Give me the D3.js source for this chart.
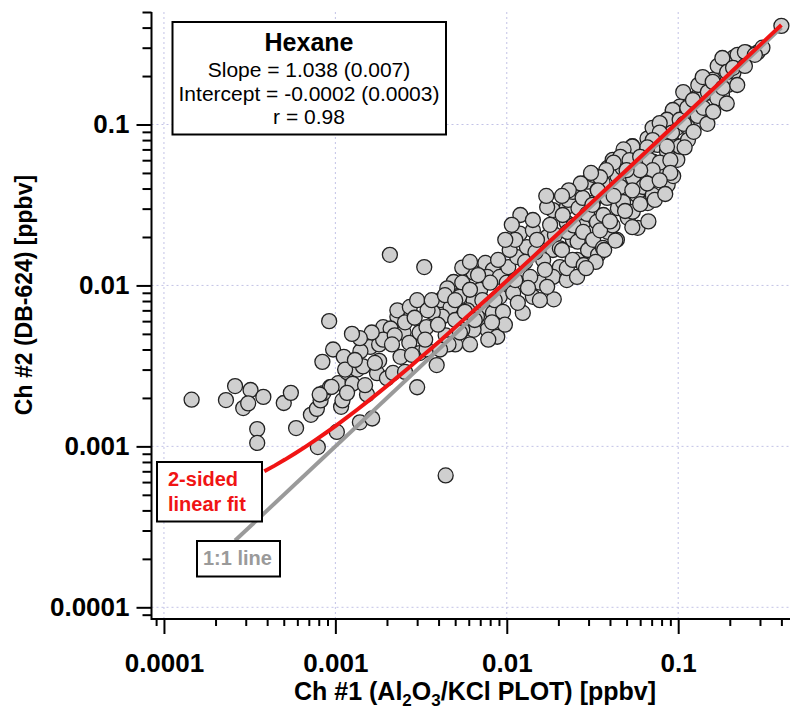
<!DOCTYPE html>
<html>
<head>
<meta charset="utf-8">
<title>Hexane: Ch #2 vs Ch #1</title>
<style>
  body { margin: 0; background: #fff; }
  text { font-family: Arial, "Liberation Sans", sans-serif; }
</style>
<script src="https://d3js.org/d3.v7.min.js"></script>
</head>
<body>
<svg width="790" height="709"></svg>
<script>
// decade ticks shown on both axes
var majorTicks = [1e-4, 1e-3, 1e-2, 1e-1];
var majorLabels = ["0.0001", "0.001", "0.01", "0.1"];

// fit / legend numbers
var fitSlope = 1.038, fitIntercept = 0.0003;
var fitRange = [3.85e-4, 0.40];
var oneToOneRange = [2.6e-4, 0.40];
var legendLines = ["Slope = 1.038 (0.007)", "Intercept = -0.0002 (0.0003)", "r = 0.98"];

// [Ch #1, Ch #2] in ppbv
var lowPairs = [
  [1.45e-4,1.95e-3],[2.3e-4,1.94e-3],[2.6e-4,2.37e-3],[3.2e-4,2.24e-3],[3.8e-4,2.03e-3],[2.9e-4,1.73e-3],
  [3.1e-4,1.85e-3],[3.5e-4,1.28e-3],[3.5e-4,1.05e-3],[5.0e-4,1.86e-3],[5.5e-4,2.15e-3],[5.9e-4,1.30e-3],
  [7.2e-4,1.57e-3],[7.8e-4,1.71e-3],[7.9e-4,9.9e-4],[8.2e-4,1.93e-3],[8.5e-4,2.14e-3],[9.3e-4,2.33e-3],
  [1.02e-3,1.23e-3],[1.08e-3,1.76e-3],[1.1e-3,1.93e-3],[1.04e-3,2.47e-3],[1.17e-3,2.89e-3],[1.34e-3,3.0e-3],
  [1.39e-3,1.41e-3],[1.26e-3,2.45e-3],[1.64e-3,1.49e-3],[1.45e-3,3.14e-3],[1.75e-3,2.85e-3],[2.0e-3,2.65e-3],
  [3.0e-3,2.33e-3],[3.9e-3,3.2e-3],[4.4e-3,6.6e-4],[9.2e-4,6.0e-3],[2.08e-3,1.55e-2],[3.3e-3,1.3e-2]
];
var midPairs = [
  [9.7e-4,4.0e-3],[8.4e-4,3.35e-3],[1.12e-3,3.6e-3],[1.14e-3,3.0e-3],[9.5e-4,2.34e-3],[8.1e-4,2.1e-3],
  [1.6e-3,4.15e-3],[1.8e-3,4.3e-3],[1.9e-3,5.5e-3],[2.3e-3,6.4e-3],[2.1e-3,5.4e-3],[2.5e-3,5.1e-3],
  [1.8e-3,3.4e-3],[2.4e-3,3.6e-3],[2.7e-3,4.4e-3],[3.1e-3,5.1e-3],[3.4e-3,5.5e-3],[3.1e-3,3.8e-3],
  [4.1e-3,8.1e-3],[4.7e-3,7.3e-3],[4.2e-3,6.4e-3],[3.7e-3,6.8e-3],[4.9e-3,1.05e-2],[5.5e-3,1.04e-2],
  [5.3e-3,8.5e-3],[6.4e-3,8.1e-3],[5.9e-3,7.0e-3],[7.0e-3,9.4e-3],[7.5e-3,1.38e-2],[8.3e-3,1.25e-2],
  [7.7e-3,1.13e-2],[6.4e-3,1.2e-2],[9.1e-3,1.13e-2],[1.02e-2,1.3e-2],[1.0e-2,1.04e-2],[9.1e-3,8.5e-3],
  [7.7e-3,7.0e-3],[7.0e-3,6.1e-3],[7.7e-3,5.3e-3],[8.8e-3,4.8e-3],[7.8e-3,4.6e-3],[6.4e-3,5.3e-3],
  [6.7e-3,6.4e-3],[8.3e-3,6.75e-3],[1.09e-2,9.0e-3],[1.24e-2,6.75e-3],[1.16e-2,7.8e-3],[1.42e-2,8.5e-3],
  [1.56e-2,1.04e-2],[1.37e-2,1.13e-2],[1.15e-2,1.5e-2],[1.31e-2,1.73e-2],[1.19e-2,2.1e-2],[1.2e-2,2.74e-2],
  [1.42e-2,2.2e-2],[1.72e-2,2.0e-2],[1.86e-2,1.66e-2],[1.63e-2,1.44e-2],[2.04e-2,1.3e-2],[1.86e-2,1.13e-2],
  [1.88e-2,8.2e-3],[1.72e-2,9.8e-3],[2.24e-2,1.08e-2],[2.57e-2,1.44e-2],[2.43e-2,1.92e-2],[2.24e-2,2.45e-2],
  [1.86e-2,2.94e-2],[2.78e-2,2.31e-2],[3.06e-2,1.84e-2],[3.18e-2,2.12e-2],[2.94e-2,2.82e-2],[3.18e-2,3.26e-2],
  [2.24e-2,3.07e-2],[1.72e-2,3.07e-2],[1.42e-2,2.55e-2],[1.17e-3,2.15e-3],[1.53e-3,2.1e-3],[2.17e-3,2.86e-3],
  [1.9e-3,4.6e-3],[2.3e-3,7.0e-3],[3.4e-3,4.0e-3],[2.72e-3,7.35e-3],[3.0e-3,8.1e-3],[3.45e-3,7.0e-3],
  [4.5e-3,9.6e-3],[5.0e-3,6.1e-3],[5.5e-3,5.3e-3],[4.4e-3,4.9e-3],[5.0e-3,4.3e-3],[1.4e-3,3.9e-3],
  [2.22e-3,4.9e-3],[2.55e-3,5.9e-3],[2.9e-3,6.3e-3],[3.34e-3,4.6e-3],[2.8e-3,3.7e-3],[3.97e-3,5.7e-3],
  [4.57e-3,4.3e-3],[3.65e-3,8.1e-3],[2.14e-3,4.3e-3],[1.63e-3,5.1e-3],[1.39e-3,4.7e-3],[1.25e-3,5.0e-3],
  [2.55e-3,2.9e-3],[1.49e-3,2.4e-3],[1.7e-3,3.3e-3],[1.3e-3,3.44e-3],
  [4.36e-3,8.7e-3],[5.0e-3,8.1e-3],[5.7e-3,6.85e-3],[6.1e-3,9.4e-3],[6.5e-3,6.1e-3],[7.2e-3,8.1e-3],
  [8.0e-3,1.04e-2],[8.5e-3,8.1e-3],[9.5e-3,6.85e-3],[9.75e-3,5.7e-3],[8.2e-3,5.9e-3],[5.33e-3,5.1e-3],
  [4.08e-3,4.0e-3],[6.1e-3,4.3e-3],[6.8e-3,1.16e-2],[5.5e-3,1.29e-2],[8.9e-3,1.44e-2],[6.1e-3,1.4e-2],
  [1.04e-2,1.66e-2],[1.12e-2,1.92e-2],[1.28e-2,1.4e-2],[1.47e-2,1.61e-2],[1.67e-2,1.25e-2],[1.5e-2,1.92e-2],
  [1.91e-2,2.06e-2],[2.04e-2,1.7e-2],[1.79e-2,2.38e-2],[1.33e-2,9.65e-3],[1.56e-2,8.1e-3],[1.12e-2,1.08e-2],
  [9.8e-3,1.92e-2],[1.07e-2,2.38e-2]
];
var bandPairs = [
  [0.0228,0.034],[0.0212,0.0274],[0.0226,0.0215],[0.0210,0.0166],[0.0224,0.0128],
  [0.0243,0.0381],[0.0262,0.0302],[0.0245,0.0236],[0.0259,0.0187],[0.0242,0.0144],[0.0257,0.0113],
  [0.0297,0.0441],[0.0277,0.035],[0.0294,0.0278],[0.0279,0.0215],[0.0298,0.0166],[0.0281,0.0134],
  [0.0318,0.0487],[0.0339,0.0392],[0.0316,0.0317],[0.0336,0.0248],[0.0319,0.0192],[0.0341,0.0155],
  [0.0388,0.0537],[0.0362,0.0437],[0.0385,0.035],[0.0366,0.0274],[0.0389,0.0215],[0.0364,0.0171],
  [0.0415,0.0603],[0.0442,0.0478],[0.0418,0.0381],[0.0445,0.0302],[0.0414,0.0236],[0.0439,0.0192],
  [0.0506,0.0676],[0.0474,0.0537],[0.0503,0.0422],[0.0477,0.033],[0.0508,0.0263],
  [0.0541,0.0733],[0.0578,0.0587],[0.0545,0.0466],[0.0575,0.0365],[0.0543,0.0287],[0.058,0.0228],
  [0.0662,0.0818],[0.0621,0.0656],[0.0659,0.0522],[0.0624,0.0409],[0.0664,0.0325],
  [0.0709,0.0953],[0.0757,0.0747],[0.0713,0.0587],[0.0754,0.0466],[0.0711,0.0365],
  [0.0865,0.1068],[0.0812,0.0842],[0.0861,0.0676],[0.0815,0.0537],[0.0868,0.0422],
  [0.0929,0.12],[0.0985,0.0953],[0.0932,0.0762],[0.0988,0.0603],[0.0935,0.0478]
];
var highPairs = [
  [0.40,0.41],[0.29,0.28],[0.25,0.28],[0.21,0.26],[0.23,0.235],[0.21,0.21],[0.175,0.20],[0.16,0.19],
  [0.138,0.176],[0.147,0.157],[0.18,0.153],[0.129,0.148],[0.113,0.142],[0.102,0.129],[0.093,0.123],
  [0.113,0.123],[0.129,0.118],[0.086,0.107],[0.078,0.102],[0.102,0.107],[0.113,0.097],[0.092,0.089],
  [0.078,0.089],[0.071,0.080],[0.102,0.073],[0.086,0.073],[0.066,0.072],[0.054,0.073],[0.048,0.070],
  [0.046,0.063],[0.052,0.060],[0.060,0.063],[0.068,0.060],[0.078,0.058],[0.090,0.060],[0.090,0.050],
  [0.071,0.052],[0.060,0.052],[0.050,0.052],[0.042,0.058],[0.038,0.052],[0.035,0.047],[0.031,0.050],
  [0.027,0.043],[0.046,0.041],[0.054,0.039],[0.066,0.043],[0.042,0.036],[0.034,0.039],[0.023,0.039],
  [0.021,0.036],[0.017,0.036],[0.078,0.045],[0.037,0.0166],[0.043,0.019],[0.035,0.022],[0.040,0.025],
  [0.049,0.029],[0.054,0.023],[0.060,0.032],[0.067,0.025],[0.073,0.034],[0.084,0.037],
  [0.033,0.014],[0.029,0.0128],[0.31,0.30],[0.195,0.176],
  [0.107,0.159],[0.113,0.127],[0.108,0.101],[0.114,0.080],[0.109,0.072],
  [0.131,0.176],[0.122,0.142],[0.130,0.113],[0.123,0.090],
  [0.139,0.197],[0.149,0.159],[0.140,0.127],[0.148,0.101],
  [0.170,0.231],[0.159,0.184],[0.169,0.146],[0.160,0.12],
  [0.181,0.259],[0.193,0.212],[0.182,0.169],[0.192,0.135],
  [0.222,0.271],[0.209,0.225],[0.221,0.176],
  [0.245,0.282],[0.245,0.231],[0.28,0.271]
];

var svg = d3.select("svg"),
    margin = {top: 12, right: 0, bottom: 90, left: 151.5},
    W = +svg.attr("width"), H = +svg.attr("height"),
    x0 = margin.left, x1 = W - margin.right,
    y0 = H - margin.bottom, y1 = margin.top;

var x = d3.scaleLog().domain([8.46e-5, 0.449]).range([x0, x1]);
var y = d3.scaleLog().domain([8.46e-5, 0.50]).range([y0, y1]);

var minorX = x.ticks().filter(function(v){ return majorTicks.indexOf(v) < 0; });
var minorY = y.ticks().filter(function(v){ return majorTicks.indexOf(v) < 0; });

// dashed grid
var grid = svg.append("g").attr("stroke", "#c2c2e6").attr("stroke-width", 1).attr("stroke-dasharray", "2,3");
grid.selectAll(".gx").data(majorTicks).enter().append("line")
    .attr("x1", function(d){ return x(d); }).attr("x2", function(d){ return x(d); })
    .attr("y1", y1).attr("y2", y0);
grid.selectAll(".gy").data(majorTicks).enter().append("line")
    .attr("y1", function(d){ return y(d); }).attr("y2", function(d){ return y(d); })
    .attr("x1", x0).attr("x2", x1);

// points
var allPairs = lowPairs.concat(midPairs, bandPairs, highPairs);
svg.append("g").selectAll("circle").data(allPairs).enter().append("circle")
    .attr("cx", function(d){ return x(d[0]); })
    .attr("cy", function(d){ return y(d[1]); })
    .attr("r", 7.5)
    .attr("fill", "#cfcfcf")
    .attr("stroke", "#222")
    .attr("stroke-width", 1.3);

// 1:1 line and fit curve
svg.append("line")
    .attr("x1", x(oneToOneRange[0])).attr("y1", y(oneToOneRange[0]))
    .attr("x2", x(oneToOneRange[1])).attr("y2", y(oneToOneRange[1]))
    .attr("stroke", "#9a9a9a").attr("stroke-width", 4);

var samples = d3.range(0, 1.0001, 0.02).map(function(t){
  return fitRange[0] * Math.pow(fitRange[1] / fitRange[0], t);
});
svg.append("path")
    .datum(samples)
    .attr("fill", "none").attr("stroke", "#f01414").attr("stroke-width", 4)
    .attr("d", d3.line().x(function(d){ return x(d); }).y(function(d){ return y(fitSlope * d + fitIntercept); }));

// axes
function styleAxis(g) {
  g.select(".domain").remove();
  g.selectAll("line").attr("stroke", "#000").attr("stroke-width", 2);
  g.selectAll("text").attr("font-size", 26).attr("font-weight", "bold").attr("fill", "#000")
    .style("font-family", "Arial, 'Liberation Sans', sans-serif");
}
svg.append("g").attr("transform", "translate(0," + y0 + ")")
   .call(d3.axisBottom(x).tickValues(minorX).tickSize(7).tickFormat(""))
   .call(styleAxis);
svg.append("g").attr("transform", "translate(0," + y0 + ")")
   .call(d3.axisBottom(x).tickValues(majorTicks).tickSize(15).tickPadding(20)
         .tickFormat(function(d, i){ return majorLabels[i]; }))
   .call(styleAxis);
svg.append("g").attr("transform", "translate(" + x0 + ",0)")
   .call(d3.axisLeft(y).tickValues(minorY).tickSize(9).tickFormat(""))
   .call(styleAxis);
svg.append("g").attr("transform", "translate(" + x0 + ",0)")
   .call(d3.axisLeft(y).tickValues(majorTicks).tickSize(15).tickPadding(7)
         .tickFormat(function(d, i){ return majorLabels[i]; }))
   .call(styleAxis);

svg.append("path")
   .attr("d", "M" + x0 + "," + y1 + "V" + y0 + "H" + x1)
   .attr("fill", "none").attr("stroke", "#000").attr("stroke-width", 2);

// axis titles
var xt = svg.append("text").attr("x", 475).attr("y", 700).attr("text-anchor", "middle")
    .attr("font-size", 25).attr("font-weight", "bold");
xt.append("tspan").text("Ch #1 (Al");
xt.append("tspan").attr("font-size", 17).attr("dy", 6).text("2");
xt.append("tspan").attr("dy", -6).text("O");
xt.append("tspan").attr("font-size", 17).attr("dy", 6).text("3");
xt.append("tspan").attr("dy", -6).text("/KCl PLOT) [ppbv]");

svg.append("text")
    .attr("transform", "translate(32,295) rotate(-90)")
    .attr("text-anchor", "middle")
    .attr("font-size", 23).attr("font-weight", "bold")
    .text("Ch #2 (DB-624) [ppbv]");

// stats box
var box = svg.append("g");
box.append("rect").attr("x", 172.5).attr("y", 22).attr("width", 273.5).attr("height", 112.5)
   .attr("fill", "#fff").attr("stroke", "#000").attr("stroke-width", 2);
box.append("text").attr("x", 309).attr("y", 51).attr("text-anchor", "middle")
   .attr("font-size", 25).attr("font-weight", "bold").text("Hexane");
box.selectAll(".ln").data(legendLines).enter().append("text")
   .attr("x", 309).attr("y", function(d, i){ return 77 + i * 23.5; })
   .attr("text-anchor", "middle").attr("font-size", 21).text(function(d){ return d; });

// line labels
svg.append("rect").attr("x", 157).attr("y", 462).attr("width", 105).attr("height", 59.5)
   .attr("fill", "#fff").attr("stroke", "#000").attr("stroke-width", 2);
svg.append("text").attr("x", 168).attr("y", 486).attr("font-size", 20).attr("font-weight", "bold")
   .attr("fill", "#f01414").text("2-sided");
svg.append("text").attr("x", 168).attr("y", 510.5).attr("font-size", 20).attr("font-weight", "bold")
   .attr("fill", "#f01414").text("linear fit");

svg.append("rect").attr("x", 197).attr("y", 541).attr("width", 83).attr("height", 35.5)
   .attr("fill", "#fff").attr("stroke", "#000").attr("stroke-width", 2);
svg.append("text").attr("x", 203).attr("y", 565).attr("font-size", 20).attr("font-weight", "bold")
   .attr("fill", "#9a9a9a").text("1:1 line");
</script>
</body>
</html>
